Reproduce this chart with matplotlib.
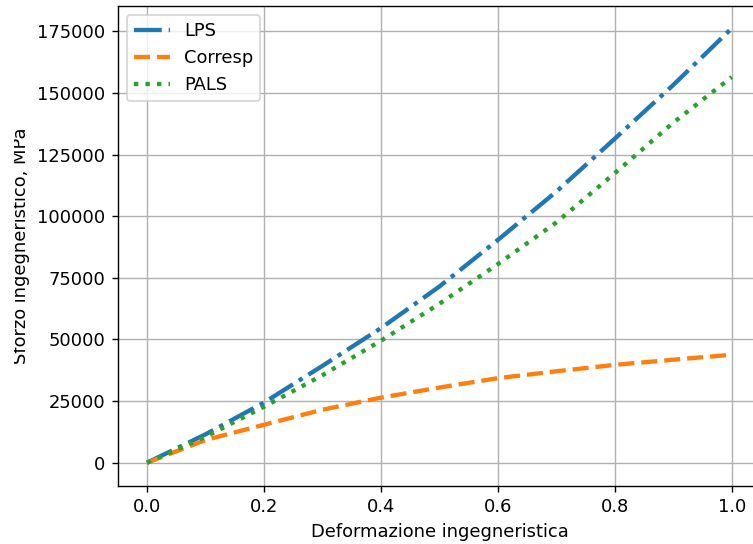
import numpy as np
import matplotlib
matplotlib.use("Agg")
import matplotlib.pyplot as plt
from matplotlib.transforms import Bbox, TransformedBbox

plt.rcParams['font.size'] = 10.3

# deformazione ingegneristica
strain = [0.0, 0.1, 0.2, 0.3, 0.4, 0.5, 0.6, 0.7, 0.8, 0.9, 1.0]
# sforzo ingegneristico [MPa] per i tre modelli
lps = [0, 11500, 24400, 39300, 54600, 71500, 90400, 110000, 131500, 153300, 176300]
corresp = [0, 9200, 15400, 21500, 26400, 30500, 34300, 37100, 39700, 41800, 43800]
pals = [0, 10500, 22700, 35500, 49500, 64500, 80600, 97500, 117500, 138000, 156500]

fig = plt.figure(figsize=(753 / 125, 544 / 125), dpi=125)
ax = fig.add_axes([0.1564, 0.1066, 0.8542, 0.8824])

ax.plot(strain, lps, '-.', lw=2.5, label='LPS')
ax.plot(strain, corresp, '--', lw=2.5, label='Corresp')
ax.plot(strain, pals, ':', lw=2.5, label='PALS')

ax.set_xlim(-0.05, 1.05)
ax.set_ylim(-9460, 185350)
ax.set_xlabel('Deformazione ingegneristica')
ax.set_ylabel('Sforzo ingegneristico, MPa')
ax.yaxis.set_label_coords(-0.1365, 0.5)
# the label is cut along its left edge
ylab = ax.yaxis.label
ylab.set_clip_box(TransformedBbox(Bbox.from_extents(14 / 753, 0, 1, 1), fig.transFigure))
ylab.set_clip_on(True)
ax.grid(True)
ax.legend(loc='upper left')

fig.savefig('out.png', dpi=125)
